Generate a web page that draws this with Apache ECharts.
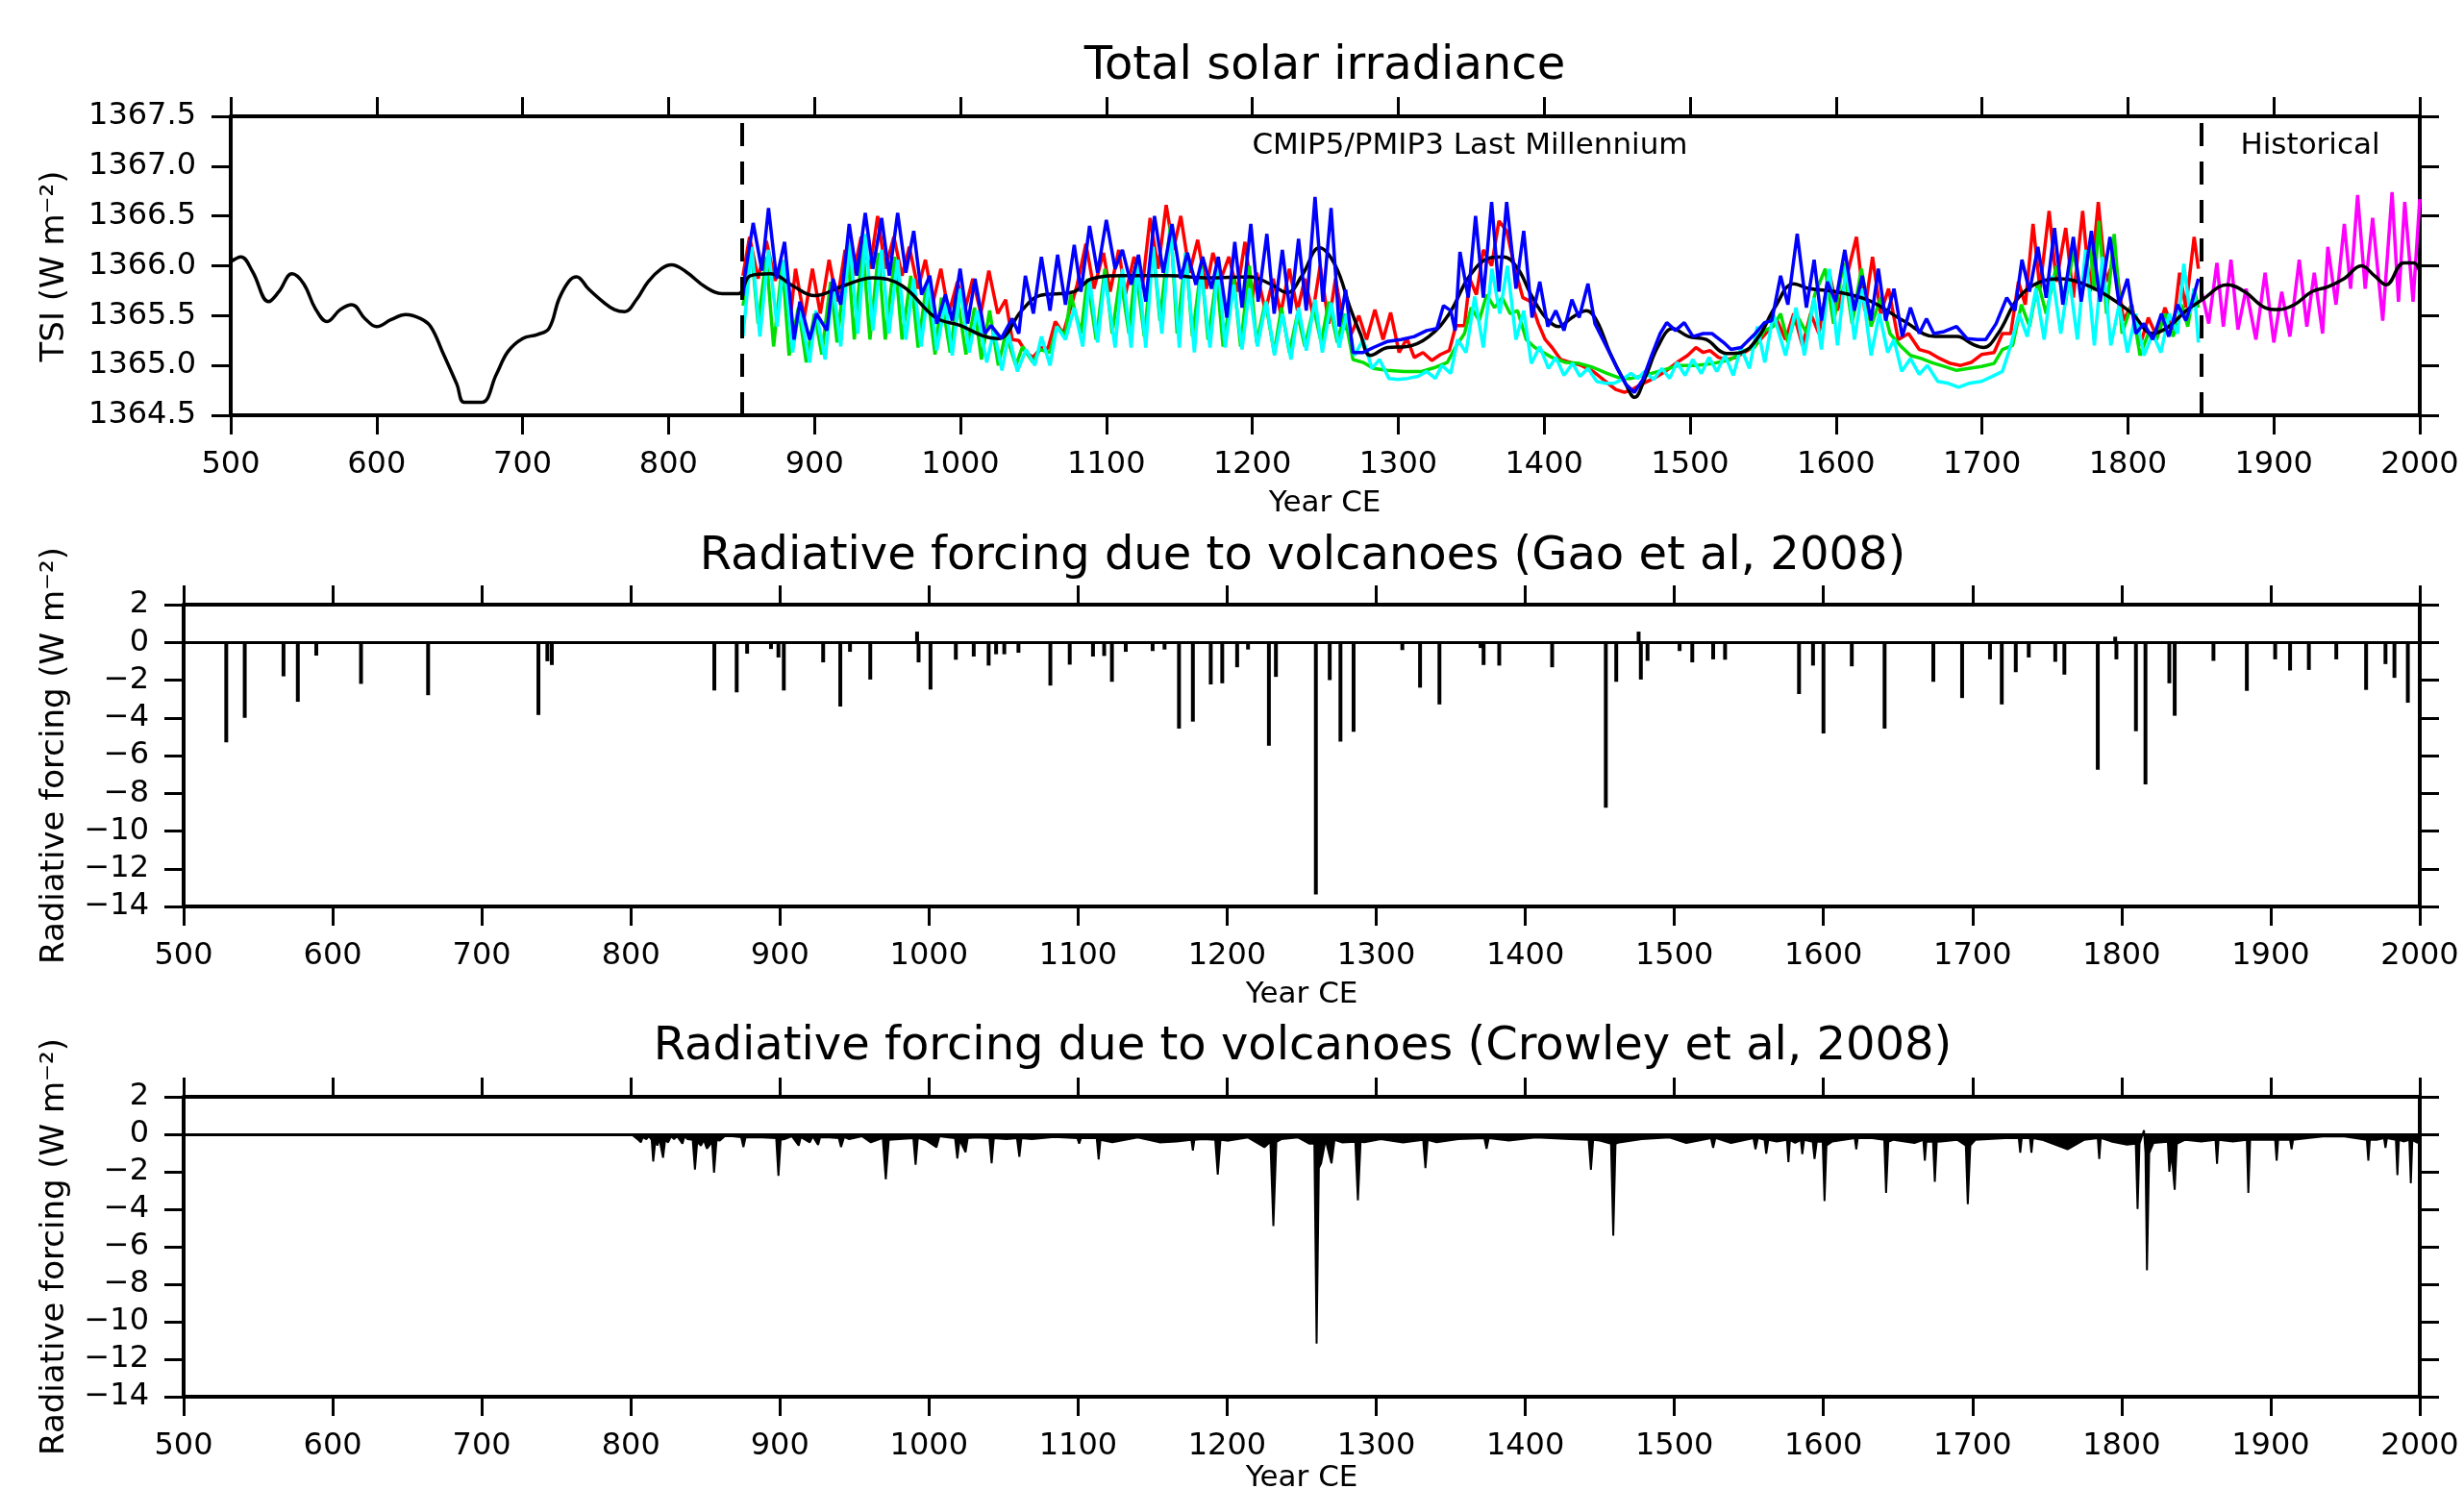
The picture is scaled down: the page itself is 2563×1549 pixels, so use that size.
<!DOCTYPE html>
<html>
<head>
<meta charset="utf-8">
<title>Solar and volcanic forcing</title>
<script src="https://cdn.jsdelivr.net/npm/echarts@6/dist/echarts.min.js"></script>
<style>
html, body { margin: 0; padding: 0; background: #fff; }
#main { width: 2563px; height: 1549px; }
</style>
</head>
<body>
<div id="main"></div>
<script>
// ---- data ----
var xTicks = [500, 2000, 100];
var tsiTicks = [1364.5, 1367.5, 0.5];
var rfTicks = [-14, 2, 2];
var splitYears = [850, 1850];

// smoothed reconstruction (black)
var tsiBlack = [[500,1366.04],[507,1366.09],[515,1365.94],[526,1365.64],[533,1365.74],[542,1365.92],[550,1365.82],[558,1365.57],[566,1365.44],[575,1365.56],[583,1365.61],[592,1365.47],[600,1365.39],[610,1365.46],[620,1365.51],[630,1365.47],[637,1365.39],[645,1365.14],[655,1364.81],[660,1364.63],[672,1364.63],[682,1364.91],[690,1365.14],[700,1365.27],[710,1365.31],[718,1365.37],[725,1365.67],[732,1365.85],[737,1365.89],[745,1365.77],[755,1365.64],[763,1365.56],[770,1365.54],[778,1365.66],[786,1365.84],[795,1365.97],[802,1366.01],[812,1365.94],[825,1365.79],[837,1365.72],[848,1365.72],[856,1365.90],[870,1365.92],[885,1365.80],[900,1365.70],[920,1365.80],[940,1365.88],[960,1365.80],[983,1365.48],[1000,1365.40],[1015,1365.30],[1026,1365.27],[1042,1365.55],[1054,1365.70],[1068,1365.72],[1078,1365.74],[1090,1365.87],[1110,1365.90],[1143,1365.90],[1170,1365.88],[1198,1365.89],[1212,1365.82],[1224,1365.73],[1234,1365.90],[1246,1366.18],[1257,1366.00],[1267,1365.58],[1274,1365.32],[1281,1365.10],[1293,1365.18],[1306,1365.19],[1321,1365.29],[1335,1365.52],[1349,1365.90],[1363,1366.08],[1372,1366.09],[1382,1365.97],[1391,1365.71],[1401,1365.48],[1410,1365.39],[1419,1365.48],[1429,1365.55],[1436,1365.45],[1445,1365.13],[1455,1364.84],[1462,1364.68],[1469,1364.87],[1478,1365.19],[1488,1365.37],[1499,1365.29],[1511,1365.26],[1525,1365.12],[1535,1365.13],[1547,1365.29],[1558,1365.58],[1571,1365.82],[1582,1365.77],[1600,1365.74],[1623,1365.65],[1646,1365.45],[1668,1365.29],[1683,1365.29],[1694,1365.21],[1701,1365.18],[1711,1365.32],[1725,1365.68],[1740,1365.84],[1754,1365.87],[1771,1365.81],[1788,1365.68],[1803,1365.52],[1817,1365.32],[1828,1365.39],[1840,1365.55],[1851,1365.66],[1868,1365.81],[1880,1365.74],[1894,1365.58],[1903,1365.56],[1914,1365.61],[1926,1365.74],[1937,1365.79],[1948,1365.87],[1960,1366.00],[1969,1365.90],[1977,1365.81],[1989,1366.03],[1996,1366.03],[2000,1365.94]];

var tsiRed = [[851,1365.90],[855.5,1366.29],[861.4,1365.87],[867,1366.25],[873,1365.85],[879,1366.05],[884,1365.55],[887,1365.97],[893,1365.48],[898.6,1365.97],[904,1365.52],[910,1366.06],[915.5,1365.64],[921,1366.16],[926,1365.87],[932,1366.29],[938,1365.97],[943.3,1366.50],[948.5,1365.97],[954.4,1366.29],[960,1365.90],[965,1366.19],[971,1365.77],[976,1366.06],[981.4,1365.64],[986.6,1365.97],[992,1365.52],[998,1365.84],[1003,1365.55],[1008.5,1365.87],[1014,1365.52],[1019.5,1365.95],[1025.6,1365.52],[1031,1365.66],[1035.5,1365.26],[1040,1365.25],[1045,1365.13],[1049.7,1365.08],[1055.5,1365.18],[1060,1365.17],[1065,1365.44],[1070.4,1365.32],[1075.6,1365.58],[1080,1365.81],[1086,1366.22],[1091.5,1365.77],[1098,1366.13],[1102.6,1365.74],[1108.5,1366.16],[1113,1365.71],[1119,1366.09],[1124.5,1365.77],[1130,1366.48],[1135.5,1365.97],[1141,1366.61],[1146,1366.16],[1151,1366.50],[1157,1365.93],[1162.6,1366.26],[1168.5,1365.77],[1173,1366.13],[1178.6,1365.87],[1184,1366.09],[1189.7,1365.74],[1195,1366.24],[1200,1365.68],[1203,1365.93],[1209,1365.55],[1214.3,1365.87],[1219.5,1365.52],[1225.4,1365.97],[1231,1365.55],[1236,1365.87],[1241.4,1365.52],[1246.5,1366.00],[1252.4,1365.42],[1257,1365.87],[1263,1365.39],[1268,1365.32],[1273,1365.50],[1278.3,1365.26],[1284,1365.56],[1289.6,1365.26],[1294.8,1365.53],[1300.6,1365.13],[1306,1365.27],[1311,1365.08],[1317,1365.13],[1323,1365.05],[1329,1365.11],[1335,1365.15],[1339.5,1365.40],[1345.4,1365.40],[1349,1365.87],[1353.6,1365.71],[1358.3,1366.16],[1364,1366.00],[1369,1366.45],[1374.3,1366.35],[1380,1365.97],[1385.4,1365.68],[1391,1365.64],[1396,1365.42],[1400.7,1365.26],[1405.4,1365.18],[1411.3,1365.06],[1418.3,1365.03],[1425.4,1365.00],[1433.6,1364.94],[1442,1364.84],[1449,1364.76],[1455,1364.73],[1460.6,1364.76],[1466.5,1364.81],[1475,1364.87],[1483,1364.94],[1491,1365.03],[1498.3,1365.10],[1504,1365.18],[1509,1365.13],[1513.6,1365.15],[1519.5,1365.08],[1525.4,1365.06],[1531.3,1365.08],[1537,1365.13],[1544,1365.19],[1550,1365.29],[1556,1365.39],[1559.7,1365.45],[1565.4,1365.26],[1571,1365.52],[1577,1365.20],[1582.6,1365.52],[1588.3,1365.32],[1595.4,1365.93],[1601,1365.55],[1608,1365.93],[1614,1366.29],[1619.7,1365.55],[1625,1366.09],[1630.6,1365.52],[1636,1365.77],[1642.6,1365.26],[1649.7,1365.32],[1657,1365.16],[1664,1365.13],[1671,1365.07],[1678.3,1365.02],[1685.4,1365.00],[1692.6,1365.03],[1699.7,1365.11],[1708.3,1365.13],[1714,1365.32],[1719.7,1365.32],[1725,1365.84],[1729.7,1365.61],[1735,1366.42],[1739.7,1365.77],[1746,1366.55],[1751,1365.84],[1757.4,1366.38],[1762.6,1365.68],[1769,1366.55],[1774,1365.74],[1779.7,1366.64],[1785,1365.84],[1791,1366.09],[1797,1365.45],[1802.6,1365.61],[1808.3,1365.20],[1814,1365.48],[1819.7,1365.29],[1825.4,1365.58],[1831,1365.36],[1835.4,1365.93],[1839.7,1365.58],[1845.4,1366.29],[1848.3,1365.97]];

var tsiGreen = [[851,1365.60],[857,1366.13],[861.4,1365.42],[867,1366.09],[872,1365.19],[878,1366.03],[882.6,1365.10],[889,1365.58],[894.4,1365.03],[900,1365.52],[905,1365.11],[911,1365.84],[915.5,1365.23],[922.6,1366.19],[927.3,1365.26],[933,1366.22],[938,1365.26],[943.8,1366.13],[948.5,1365.26],[955,1366.09],[960,1365.26],[966,1365.90],[971,1365.18],[976.7,1365.81],[982.6,1365.11],[987,1365.68],[993,1365.13],[998,1365.68],[1003.8,1365.11],[1009.7,1365.58],[1014.4,1365.06],[1020,1365.55],[1026,1365.00],[1031,1365.32],[1038,1365.00],[1042.6,1365.19],[1049.7,1365.03],[1054.4,1365.16],[1061.4,1365.13],[1066,1365.39],[1072,1365.30],[1075.6,1365.71],[1082.6,1365.32],[1087,1365.87],[1093,1365.26],[1099,1365.97],[1104,1365.32],[1109.6,1365.90],[1115.5,1365.32],[1120,1366.00],[1126,1365.29],[1132,1366.19],[1136.7,1365.45],[1144,1366.42],[1148.5,1365.32],[1154.4,1366.13],[1159,1365.29],[1165,1366.00],[1169.7,1365.26],[1175.6,1365.90],[1180,1365.19],[1187.3,1365.87],[1192,1365.19],[1198,1366.00],[1203,1365.23],[1209,1365.64],[1215,1365.13],[1220,1365.58],[1225.4,1365.13],[1231,1365.52],[1236,1365.19],[1242,1365.58],[1247.2,1365.23],[1252.4,1365.64],[1258.3,1365.23],[1263,1365.52],[1269,1365.06],[1276,1365.03],[1283,1364.97],[1292.4,1364.95],[1304,1364.94],[1316,1364.94],[1325.4,1364.98],[1333.6,1365.03],[1339.5,1365.19],[1345.4,1365.32],[1350,1365.58],[1355.5,1365.45],[1360.6,1365.71],[1366,1365.58],[1371.3,1365.68],[1376.7,1365.52],[1381.8,1365.55],[1387.7,1365.26],[1393.6,1365.18],[1399.5,1365.13],[1405.4,1365.08],[1414.8,1365.03],[1424,1365.02],[1433.6,1364.98],[1443,1364.92],[1452.4,1364.87],[1459.5,1364.87],[1469,1364.90],[1480.6,1364.95],[1492.4,1365.00],[1504,1365.00],[1516,1365.02],[1527.7,1365.06],[1537,1365.15],[1544,1365.18],[1551,1365.35],[1557,1365.39],[1562,1365.52],[1567,1365.23],[1572.6,1365.52],[1580,1365.32],[1585.4,1365.71],[1592.6,1365.97],[1598.3,1365.42],[1605,1366.03],[1611,1365.42],[1617.4,1365.97],[1624,1365.39],[1630.6,1365.68],[1637,1365.32],[1644,1365.20],[1651,1365.10],[1658.3,1365.07],[1665.4,1365.03],[1674,1364.99],[1682.6,1364.95],[1691,1364.97],[1699.7,1364.99],[1708.3,1365.02],[1714,1365.16],[1721,1365.20],[1727,1365.61],[1732.6,1365.39],[1738.3,1365.84],[1744,1365.52],[1751,1366.00],[1757,1365.61],[1762.6,1366.16],[1768.3,1365.68],[1774,1366.22],[1777,1365.75],[1780,1366.45],[1785.4,1365.52],[1790.6,1366.32],[1796,1365.32],[1802.6,1365.61],[1808.3,1365.10],[1814,1365.32],[1819.7,1365.26],[1825.4,1365.52],[1831,1365.29],[1837,1365.61],[1841,1365.39],[1845.4,1365.77],[1848.3,1365.58]];

var tsiCyan = [[851,1365.29],[857,1366.19],[862.6,1365.29],[868.5,1366.16],[874.4,1365.39],[879,1366.06],[885,1365.13],[889.7,1365.58],[896.7,1365.03],[901,1365.55],[907.3,1365.06],[912.7,1365.81],[918,1365.19],[924,1366.26],[929.7,1365.32],[935,1366.32],[940,1365.35],[946,1366.16],[951,1365.32],[957,1366.06],[962.6,1365.26],[968,1365.87],[973,1365.19],[978.6,1365.84],[983.8,1365.15],[989.7,1365.64],[994.4,1365.10],[1000,1365.77],[1006,1365.13],[1011.5,1365.55],[1018,1365.03],[1023,1365.35],[1028.5,1364.95],[1033,1365.32],[1039,1364.94],[1045,1365.16],[1051,1365.00],[1055.5,1365.29],[1061.4,1365.00],[1066,1365.39],[1072,1365.26],[1078,1365.58],[1083.8,1365.19],[1088.5,1365.87],[1094,1365.23],[1099,1365.90],[1106,1365.18],[1111,1365.97],[1117,1365.18],[1121.4,1366.03],[1127,1365.18],[1132,1366.19],[1138,1365.32],[1144,1366.38],[1150,1365.18],[1154.4,1366.13],[1160.3,1365.13],[1165,1365.97],[1171,1365.18],[1176.7,1366.00],[1181.4,1365.18],[1187.3,1365.81],[1193,1365.16],[1198,1365.77],[1203.5,1365.19],[1209.6,1365.64],[1215.2,1365.10],[1220.6,1365.52],[1226.5,1365.06],[1231.7,1365.58],[1237,1365.15],[1243,1365.66],[1248,1365.13],[1254,1365.63],[1259.5,1365.18],[1264.6,1365.52],[1270,1365.10],[1276,1365.26],[1282,1364.97],[1287.2,1365.06],[1293.6,1364.87],[1299.5,1364.86],[1306.5,1364.87],[1313.6,1364.89],[1319.5,1364.94],[1325.4,1364.87],[1330,1365.00],[1336,1364.92],[1340.7,1365.26],[1346.5,1365.13],[1352.4,1365.69],[1358.3,1365.18],[1364.2,1365.97],[1369.6,1365.52],[1374.8,1366.00],[1380.7,1365.26],[1386,1365.55],[1391.2,1365.02],[1397,1365.19],[1403,1364.97],[1408,1365.08],[1413.6,1364.90],[1419.5,1365.02],[1424.6,1364.89],[1430,1364.97],[1436,1364.84],[1442,1364.82],[1447.7,1364.82],[1453.6,1364.86],[1459.5,1364.92],[1464,1364.87],[1469,1364.94],[1475,1364.86],[1480.6,1364.97],[1486,1364.87],[1491,1365.03],[1496.6,1364.90],[1501.8,1365.06],[1507.7,1364.92],[1513,1365.08],[1518.3,1364.94],[1524,1365.10],[1529.6,1364.90],[1534.8,1365.18],[1540.7,1364.97],[1546,1365.39],[1551.2,1365.03],[1557,1365.52],[1565.4,1365.10],[1572.6,1365.58],[1578.3,1365.10],[1585,1365.68],[1590,1365.16],[1595.4,1365.97],[1601,1365.20],[1607,1366.00],[1612.6,1365.26],[1618,1365.77],[1624,1365.10],[1629.7,1365.52],[1635.4,1365.13],[1639.7,1365.26],[1645,1364.94],[1651,1365.07],[1657,1364.91],[1662.6,1365.00],[1669.7,1364.84],[1677,1364.82],[1684,1364.78],[1691,1364.82],[1699.7,1364.84],[1707,1364.89],[1714,1364.94],[1719.7,1365.20],[1725.4,1365.52],[1731,1365.29],[1737,1365.77],[1742.6,1365.26],[1748.3,1365.90],[1754,1365.32],[1759.7,1365.90],[1765.4,1365.26],[1771,1366.16],[1777,1365.20],[1782.6,1366.09],[1788.3,1365.20],[1794,1365.61],[1799.7,1365.13],[1805.4,1365.52],[1811,1365.10],[1817,1365.32],[1822.6,1365.13],[1828.3,1365.52],[1834,1365.32],[1838.3,1366.02],[1842.6,1365.52],[1845.4,1365.77],[1848.3,1365.23]];

var tsiBlue = [[851,1365.70],[852,1365.87],[858,1366.43],[864,1365.95],[868.5,1366.58],[874,1365.87],[879.5,1366.24],[886,1365.26],[890,1365.64],[896.7,1365.26],[901.4,1365.52],[908.5,1365.35],[912.7,1365.87],[918,1365.61],[923.8,1366.42],[929,1365.90],[934.8,1366.53],[940,1365.97],[946,1366.48],[951.3,1365.90],[957,1366.53],[962.6,1365.93],[968,1366.35],[973.4,1365.71],[979,1365.90],[983.8,1365.42],[989.7,1365.71],[994.4,1365.45],[999.8,1365.97],[1005,1365.42],[1010,1365.87],[1016.7,1365.32],[1021,1365.40],[1028,1365.27],[1035.5,1365.47],[1040,1365.32],[1044.5,1365.90],[1050,1365.52],[1055.5,1366.09],[1061.4,1365.55],[1066.6,1366.11],[1072,1365.61],[1078,1366.21],[1082.6,1365.74],[1088.5,1366.40],[1094,1365.93],[1100,1366.46],[1106,1365.97],[1111,1366.16],[1117,1365.81],[1122,1366.11],[1127,1365.64],[1133,1366.50],[1139,1365.93],[1145,1366.42],[1151,1365.87],[1155.5,1366.13],[1161.4,1365.81],[1166,1366.09],[1172,1365.77],[1176.7,1366.09],[1182.6,1365.48],[1188,1366.24],[1193,1365.58],[1199,1366.42],[1204,1365.64],[1210,1366.32],[1215,1365.52],[1220.6,1366.16],[1226,1365.52],[1231.7,1366.27],[1237,1365.55],[1243,1366.69],[1248.4,1365.64],[1254,1366.58],[1259.5,1365.39],[1264,1365.76],[1269,1365.13],[1276,1365.13],[1283,1365.18],[1292.4,1365.24],[1302,1365.26],[1311,1365.29],[1319.5,1365.35],[1326.5,1365.37],[1331,1365.60],[1336,1365.55],[1339,1365.35],[1342.3,1366.14],[1348,1365.68],[1353,1366.50],[1358.3,1365.68],[1364,1366.64],[1369,1365.74],[1374.3,1366.64],[1380.7,1365.77],[1386,1366.35],[1391.7,1365.48],[1397,1365.84],[1402.5,1365.39],[1408,1365.55],[1413.6,1365.35],[1419,1365.66],[1424,1365.48],[1430,1365.82],[1434.8,1365.42],[1443,1365.18],[1450,1364.97],[1456,1364.81],[1461.8,1364.73],[1467.7,1364.86],[1473.6,1365.10],[1479.5,1365.32],[1484,1365.43],[1490,1365.35],[1496,1365.43],[1502,1365.29],[1509,1365.32],[1515,1365.32],[1523,1365.23],[1528,1365.16],[1535,1365.18],[1544,1365.31],[1551,1365.43],[1556,1365.45],[1562,1365.90],[1567,1365.61],[1573.4,1366.32],[1579.7,1365.58],[1585,1366.06],[1590,1365.45],[1594,1365.84],[1599.7,1365.64],[1606,1366.16],[1612.6,1365.55],[1618,1365.90],[1624,1365.45],[1629,1365.97],[1634,1365.45],[1639.7,1365.77],[1645.4,1365.29],[1651,1365.58],[1657,1365.32],[1662,1365.47],[1667,1365.32],[1674,1365.34],[1682.6,1365.39],[1689.7,1365.27],[1697,1365.26],[1702.6,1365.26],[1709.7,1365.42],[1717,1365.68],[1722.6,1365.55],[1727.4,1366.06],[1732.6,1365.74],[1738.3,1366.19],[1744,1365.68],[1749.7,1366.38],[1755.4,1365.61],[1762.6,1366.29],[1768,1365.64],[1775,1366.35],[1781,1365.64],[1787.7,1366.29],[1794,1365.61],[1799.7,1365.87],[1805.4,1365.32],[1811,1365.42],[1817,1365.26],[1823,1365.52],[1828,1365.29],[1834,1365.61],[1839.7,1365.45],[1844,1365.64],[1848.3,1365.87]];

// historical TSI (magenta)
var tsiHist = [[1850,1365.75],[1851,1365.71],[1855.4,1365.42],[1861,1366.03],[1865.4,1365.39],[1870.6,1366.06],[1875.4,1365.36],[1881,1365.77],[1887.7,1365.26],[1894,1365.93],[1900,1365.23],[1905.4,1365.74],[1911,1365.29],[1917.4,1366.06],[1922.6,1365.39],[1927.7,1365.93],[1933.4,1365.32],[1937,1366.19],[1942.6,1365.61],[1948.3,1366.42],[1952.6,1365.77],[1957.4,1366.71],[1962.6,1365.77],[1967.7,1366.48],[1974.6,1365.45],[1981,1366.74],[1985.4,1365.64],[1989.7,1366.64],[1995.4,1365.64],[2000,1366.67]];

// Gao et al 2008 volcanic forcing
var gaoForcing = [[528.6,-5.3],[541,-4.0],[567,-1.8],[576.6,-3.15],[589,-0.7],[619,-2.2],[664,-2.8],[738,-3.85],[744,-1.0],[747,-1.2],[856,-2.55],[871,-2.65],[878,-0.6],[894,-0.35],[899,-0.8],[902.6,-2.55],[929,-1.06],[940.5,-3.4],[947,-0.5],[960.6,-1.97],[992,0.57],[993,-1.06],[1001,-2.5],[1018,-0.92],[1030,-0.75],[1040,-1.23],[1045,-0.63],[1050.5,-0.63],[1060,-0.55],[1081.4,-2.29],[1094.4,-1.18],[1110,-0.75],[1117.5,-0.72],[1122.7,-2.09],[1132,-0.5],[1150,-0.46],[1158,-0.38],[1167.7,-4.57],[1177,-4.2],[1189,-2.23],[1196.7,-2.17],[1206.7,-1.32],[1214,-0.38],[1228,-5.48],[1232.7,-1.83],[1259.5,-13.36],[1268.8,-2.0],[1276,-5.26],[1284.8,-4.74],[1317.5,-0.41],[1329.4,-2.4],[1342.4,-3.29],[1370,-0.3],[1372,-1.2],[1382.5,-1.23],[1418,-1.32],[1454,-8.77],[1461,-2.09],[1476,0.57],[1477.5,-1.97],[1482,-0.98],[1503.5,-0.46],[1512,-1.06],[1526,-0.9],[1534,-0.92],[1583.6,-2.74],[1593,-1.23],[1600,-4.83],[1619,-1.27],[1641,-4.57],[1673.7,-2.09],[1693,-2.95],[1711.7,-0.9],[1719.6,-3.29],[1729,-1.58],[1737.7,-0.8],[1755.5,-1.03],[1761.6,-1.71],[1784,-6.75],[1795.7,0.3],[1796.5,-0.9],[1809.6,-4.71],[1816,-7.53],[1832,-2.17],[1835.6,-3.89],[1861.6,-0.98],[1884,-2.57],[1903,-0.9],[1913,-1.49],[1925.6,-1.46],[1944,-0.9],[1964,-2.52],[1977,-1.15],[1983,-1.88],[1992,-3.2]];

// Crowley et al 2008 volcanic forcing
var crowleyForcing = [[800,0],[802,-0.1],[805,-0.3],[806.7,-0.43],[808,-0.15],[810.4,-0.26],[812,-0.1],[814,-0.3],[815,-1.45],[816.5,-0.3],[817.8,-0.6],[819,-0.2],[821.6,-1.25],[823,-0.3],[825,-0.43],[827,-0.1],[829,-0.26],[831,-0.1],[834.6,-0.5],[836,-0.1],[838,-0.26],[841.5,-0.3],[843,-1.88],[844.5,-0.4],[847,-0.6],[849,-0.3],[851,-0.77],[854.5,-0.4],[855.8,-2.05],[857.5,-0.3],[859.5,-0.34],[863,-0.1],[868,-0.1],[874,-0.15],[875.5,-0.68],[877,-0.15],[881,-0.17],[888,-0.17],[897.5,-0.2],[899,-2.22],[900.5,-0.3],[903,-0.26],[908,-0.1],[912.6,-0.6],[914,-0.15],[920,-0.43],[922,-0.1],[925.6,-0.56],[927,-0.15],[933,-0.17],[939.5,-0.2],[941,-0.68],[943,-0.15],[946.5,-0.26],[955,-0.1],[961,-0.43],[969,-0.2],[971,-2.4],[973,-0.3],[980,-0.26],[989.5,-0.2],[991,-1.63],[992.5,-0.2],[998.5,-0.34],[1005,-0.69],[1007,-0.1],[1013,-0.17],[1017.5,-0.2],[1019,-1.29],[1020.5,-0.3],[1024.5,-0.95],[1026,-0.2],[1032,-0.17],[1040.5,-0.2],[1042,-1.55],[1043.5,-0.2],[1052,-0.26],[1059,-0.2],[1060.6,-1.2],[1062,-0.2],[1069,-0.26],[1084,-0.14],[1099.5,-0.2],[1100.7,-0.5],[1102,-0.2],[1112.5,-0.2],[1113.8,-1.34],[1115,-0.3],[1123,-0.43],[1140,-0.17],[1154.6,-0.43],[1166,-0.38],[1176,-0.3],[1177,-0.86],[1178,-0.3],[1184,-0.26],[1192,-0.3],[1193.7,-2.15],[1195.5,-0.3],[1201,-0.34],[1214,-0.17],[1225,-0.69],[1229,-0.4],[1231,-4.9],[1233,-0.4],[1236.4,-0.26],[1247.6,-0.17],[1255,-0.5],[1258.5,-0.5],[1260,-11.17],[1261.5,-1.8],[1263,-1.55],[1266,-0.3],[1270,-1.55],[1272,-0.3],[1277,-0.43],[1286,-0.4],[1287.7,-3.52],[1289.5,-0.4],[1292,-0.43],[1303,-0.26],[1318,-0.43],[1331.5,-0.3],[1333,-1.8],[1334.5,-0.3],[1340.5,-0.43],[1355,-0.26],[1372.5,-0.2],[1374,-0.77],[1375.5,-0.2],[1389,-0.34],[1407,-0.17],[1430,-0.26],[1442.5,-0.3],[1444,-1.89],[1445.5,-0.3],[1450,-0.34],[1457.5,-0.5],[1459,-5.41],[1460.5,-0.5],[1463,-0.43],[1478,-0.26],[1496.7,-0.17],[1508,-0.46],[1524.5,-0.2],[1526,-0.72],[1527.5,-0.2],[1538,-0.46],[1553,-0.2],[1554.4,-0.8],[1556,-0.2],[1560.5,-0.3],[1561.6,-1.03],[1563,-0.3],[1568.7,-0.38],[1575.5,-0.3],[1576.5,-1.49],[1577.5,-0.3],[1581,-0.46],[1584.8,-0.3],[1585.8,-1.06],[1587,-0.3],[1592.8,-0.4],[1594,-1.32],[1595.5,-0.4],[1599.5,-0.4],[1600.7,-3.56],[1602,-0.6],[1606,-0.38],[1621,-0.2],[1622,-0.8],[1623,-0.2],[1632.7,-0.2],[1640.8,-0.3],[1642,-3.13],[1643.5,-0.4],[1647,-0.29],[1661,-0.46],[1667,-0.3],[1668,-1.41],[1669,-0.4],[1673.5,-0.4],[1674.7,-2.53],[1676,-0.4],[1679,-0.38],[1689.7,-0.29],[1695.5,-0.6],[1696.8,-3.73],[1698.5,-0.6],[1702,-0.29],[1721.7,-0.2],[1731,-0.2],[1732,-0.98],[1733,-0.2],[1738.5,-0.2],[1739.5,-0.98],[1740.5,-0.2],[1746.6,-0.29],[1763.7,-0.8],[1775,-0.29],[1784,-0.2],[1785,-1.32],[1786,-0.2],[1793,-0.38],[1803.6,-0.55],[1809.5,-0.5],[1810.7,-3.99],[1812,-0.5],[1815,0.22],[1816,-1.0],[1817,-7.25],[1818.5,-1.0],[1821.4,-0.46],[1831,-0.4],[1832,-2.0],[1833.5,-1.0],[1835.6,-2.96],[1837,-0.5],[1842.7,-0.29],[1853.4,-0.38],[1863,-0.3],[1864,-1.58],[1865,-0.3],[1874.7,-0.38],[1884,-0.3],[1885,-3.13],[1886.2,-0.3],[1892,-0.29],[1903,-0.3],[1904,-1.41],[1905,-0.3],[1913,-0.3],[1914,-0.8],[1915,-0.3],[1924.6,-0.2],[1935,-0.12],[1949.5,-0.12],[1964.5,-0.3],[1965.5,-1.41],[1966.5,-0.3],[1971,-0.29],[1976,-0.2],[1977,-0.72],[1978,-0.2],[1984,-0.3],[1985,-2.18],[1986,-0.3],[1989,-0.38],[1993,-0.3],[1994,-2.61],[1995,-0.3],[1998.5,-0.46],[2000,-0.1]];

// ---- chart ----
var FONT = '"DejaVu Sans", sans-serif';
var chart = echarts.init(document.getElementById('main'));

function xAx(grid, pos, labels) {
	return {
		type: 'value', gridIndex: grid, position: pos,
		min: xTicks[0], max: xTicks[1], interval: xTicks[2],
		axisLine: { show: true, onZero: false, lineStyle: { color: '#000', width: 4 } },
		axisTick: { show: true, length: 20, lineStyle: { color: '#000', width: 3 } },
		axisLabel: { show: labels, color: '#000', fontFamily: FONT, fontSize: 32, margin: 36, showMinLabel: true, showMaxLabel: true, hideOverlap: false,
			formatter: function (v) { return String(v); } },
		splitLine: { show: false }
	};
}
function yAx(grid, pos, t, labels, fmt) {
	return {
		type: 'value', gridIndex: grid, position: pos,
		min: t[0], max: t[1], interval: t[2],
		axisLine: { show: true, onZero: false, lineStyle: { color: '#000', width: 4 } },
		axisTick: { show: true, length: 20, lineStyle: { color: '#000', width: 3 } },
		axisLabel: { show: labels, color: '#000', fontFamily: FONT, fontSize: 32, margin: 36, formatter: fmt, showMinLabel: true, showMaxLabel: true },
		splitLine: { show: false }
	};
}
function tsiFmt(v) { return v.toFixed(1); }
function rfFmt(v) { return v < 0 ? '\u2212' + Math.abs(v) : String(v); }

function txt(x, y, s, size, rot) {
	return {
		type: 'text', x: x, y: y, rotation: rot || 0, silent: true,
		style: { text: s, fill: '#000', font: size + 'px ' + FONT, align: 'center', verticalAlign: 'middle', textAlign: 'center', textVerticalAlign: 'middle' }
	};
}
function tsiLine(name, data, color, width, smooth) {
	return {
		name: name, type: 'line', xAxisIndex: 0, yAxisIndex: 0, data: data,
		showSymbol: false, symbol: 'none', smooth: smooth || false,
		lineStyle: { color: color, width: width }, silent: true
	};
}

var zeroLine = {
	silent: true, symbol: ['none', 'none'], label: { show: false },
	lineStyle: { color: '#000', width: 3, type: 'solid' }, data: [{ yAxis: 0 }]
};

var black = tsiLine('Reconstruction', tsiBlack, '#000', 3.5, 0.4);
black.markLine = {
	silent: true, symbol: ['none', 'none'], label: { show: false },
	lineStyle: { color: '#000', width: 4, type: [24, 16] },
	data: splitYears.map(function (y) { return { xAxis: y }; })
};

chart.setOption({
	animation: false,
	backgroundColor: '#fff',
	grid: [
		{ left: 240, top: 121, width: 2277, height: 311 },
		{ left: 191, top: 629, width: 2326, height: 314 },
		{ left: 191, top: 1141, width: 2326, height: 312 }
	],
	xAxis: [
		xAx(0, 'bottom', true), xAx(0, 'top', false),
		xAx(1, 'bottom', true), xAx(1, 'top', false),
		xAx(2, 'bottom', true), xAx(2, 'top', false)
	],
	yAxis: [
		yAx(0, 'left', tsiTicks, true, tsiFmt), yAx(0, 'right', tsiTicks, false),
		yAx(1, 'left', rfTicks, true, rfFmt), yAx(1, 'right', rfTicks, false),
		yAx(2, 'left', rfTicks, true, rfFmt), yAx(2, 'right', rfTicks, false)
	],
	graphic: [
		txt(1378, 70, 'Total solar irradiance', 48),
		txt(1529, 152, 'CMIP5/PMIP3 Last Millennium', 31),
		txt(2403, 152, 'Historical', 31),
		txt(1378, 524, 'Year CE', 31),
		txt(57, 277, 'TSI (W m\u207B\u00B2)', 34, Math.PI / 2),
		txt(1355, 580, 'Radiative forcing due to volcanoes (Gao et al, 2008)', 48),
		txt(1354, 1035, 'Year CE', 31),
		txt(57, 786, 'Radiative forcing (W m\u207B\u00B2)', 34, Math.PI / 2),
		txt(1355, 1090, 'Radiative forcing due to volcanoes (Crowley et al, 2008)', 48),
		txt(1354, 1538, 'Year CE', 31),
		txt(57, 1297, 'Radiative forcing (W m\u207B\u00B2)', 34, Math.PI / 2)
	],
	series: [
		tsiLine('Red', tsiRed, '#ff0000', 3.5),
		tsiLine('Green', tsiGreen, '#00e000', 3.5),
		tsiLine('Cyan', tsiCyan, '#00ffff', 3.5),
		tsiLine('Historical', tsiHist, '#ff00ff', 3.5),
		black,
		tsiLine('Blue', tsiBlue, '#0000ff', 3.5),
		{
			name: 'Gao', type: 'bar', xAxisIndex: 2, yAxisIndex: 2, data: gaoForcing,
			barWidth: 4, itemStyle: { color: '#000' }, silent: true, markLine: zeroLine
		},
		{
			name: 'Crowley', type: 'line', xAxisIndex: 4, yAxisIndex: 4, data: crowleyForcing,
			showSymbol: false, symbol: 'none', silent: true,
			lineStyle: { color: '#000', width: 2 },
			areaStyle: { color: '#000', opacity: 1, origin: 0 },
			markLine: zeroLine
		}
	]
});

window.onresize = function () {
	chart.resize();
};
</script>
</body>
</html>
